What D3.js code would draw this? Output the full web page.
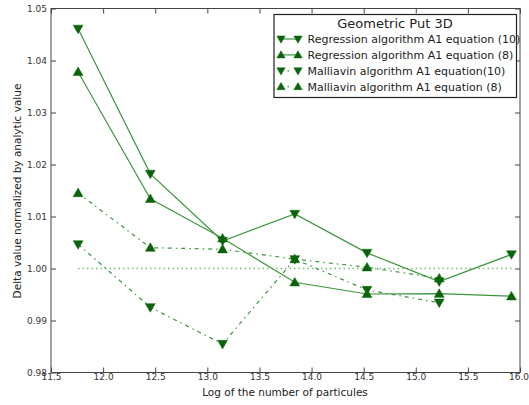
<!DOCTYPE html>
<html><head><meta charset="utf-8">
<script src="https://cdn.jsdelivr.net/npm/d3@7/dist/d3.min.js"></script>
<style>body{margin:0;background:#fff;} svg{display:block;font-family:"DejaVu Sans",sans-serif;}</style>
</head><body>
<script>
const logN = [11.76, 12.453, 13.146, 13.839, 14.532, 15.225, 15.918];
const regression10 = [1.0461, 1.0182, 1.0053, 1.0105, 1.0030, 0.9975, 1.0027];
const regression8  = [1.0378, 1.0134, 1.0058, 0.99735, 0.9951, 0.99515, 0.99466];
const malliavin10  = [1.00465, 0.99254, 0.98548, 1.00177, 0.99587, 0.99342];
const malliavin8   = [1.01452, 1.0040, 1.0037, 1.0018, 1.00023, 0.99812];
const reference    = [1.0, 1.0];
const referenceX   = [11.76, 15.918];
const xTicks = [11.5, 12.0, 12.5, 13.0, 13.5, 14.0, 14.5, 15.0, 15.5, 16.0];
const yTicks = [0.98, 0.99, 1.00, 1.01, 1.02, 1.03, 1.04, 1.05];
const seriesNames = ["Regression algorithm A1 equation (10)", "Regression algorithm A1 equation (8)", "Malliavin algorithm A1 equation(10)", "Malliavin algorithm A1 equation (8)"];
const legendTitle = "Geometric Put 3D";

const W = 529, H = 405;
const m = {l: 51, r: 9, t: 8.5, b: 32.5};
const svg = d3.select("body").append("svg").attr("width", W).attr("height", H);
const x = d3.scaleLinear().domain([11.5, 16.0]).range([m.l, W - m.r]);
const y = d3.scaleLinear().domain([0.98, 1.05]).range([H - m.b, m.t]);

const lineCol = "#3d963d", markCol = "#0b640b", axisCol = "#444";
const series = [
  {v: regression10, sym: d3.symbolTriangle, rot: 180, dash: null},
  {v: regression8, sym: d3.symbolTriangle, rot: 0, dash: null},
  {v: malliavin10, sym: d3.symbolTriangle, rot: 180, dash: "4,4,1.5,4"},
  {v: malliavin8, sym: d3.symbolTriangle, rot: 0, dash: "4,4,1.5,4"}
];

// reference dotted line
svg.append("path")
  .attr("d", d3.line().x((d,i)=>x(referenceX[i])).y(d=>y(d))(reference))
  .attr("fill","none").attr("stroke","#5cb85c").attr("stroke-width",1.3)
  .attr("stroke-dasharray","1.3,3.2");

const line = d3.line().x((d,i)=>x(logN[i])).y(d=>y(d));
series.forEach(s => {
  svg.append("path").attr("d", line(s.v)).attr("fill","none")
    .attr("stroke", lineCol).attr("stroke-width", 1.2)
    .attr("stroke-dasharray", s.dash);
});
series.forEach(s => {
  svg.selectAll(null).data(s.v).enter().append("path")
    .attr("d", d3.symbol().type(s.sym).size(42))
    .attr("transform", (d,i)=>`translate(${x(logN[i])},${y(d) + (s.rot ? -0.8 : 0.8)}) rotate(${s.rot})`)
    .attr("fill", markCol).attr("stroke", markCol).attr("stroke-width", 0.5);
});

// frame
svg.append("rect").attr("x", m.l).attr("y", m.t).attr("width", W-m.r-m.l).attr("height", H-m.b-m.t)
  .attr("fill","none").attr("stroke", axisCol).attr("stroke-width", 1);

// ticks (inside, all sides)
const gx = svg.append("g").attr("transform", `translate(0,${H-m.b})`)
  .call(d3.axisBottom(x).tickValues(xTicks).tickFormat(d3.format(".1f")).tickSizeInner(-5).tickSizeOuter(0).tickPadding(5));
const gxt = svg.append("g").attr("transform", `translate(0,${m.t})`)
  .call(d3.axisTop(x).tickValues(xTicks).tickFormat("").tickSizeInner(-5).tickSizeOuter(0));
const gy = svg.append("g").attr("transform", `translate(${m.l},0)`)
  .call(d3.axisLeft(y).tickValues(yTicks).tickFormat(d3.format(".2f")).tickSizeInner(-5).tickSizeOuter(0).tickPadding(4));
const gyr = svg.append("g").attr("transform", `translate(${W-m.r},0)`)
  .call(d3.axisRight(y).tickValues(yTicks).tickFormat("").tickSizeInner(-5).tickSizeOuter(0));
[gx,gxt,gy,gyr].forEach(g => {
  g.select(".domain").remove();
  g.selectAll("line").attr("stroke", axisCol);
  g.selectAll("text").attr("fill","#333").style("font-size","9px").style("font-family","DejaVu Sans");
});
gx.selectAll("text").attr("dy","0.3em");
gx.selectAll(".tick").filter(d => d === 16.0).select("text").attr("dx", "-1.5");

// axis labels
svg.append("text").attr("x", 285).attr("y", 396).attr("text-anchor","middle")
  .style("font-size","10.5px").attr("fill","#222").text("Log of the number of particules");
svg.append("text").attr("transform", `translate(21,${191}) rotate(-90)`).attr("text-anchor","middle")
  .style("font-size","10.5px").attr("fill","#222").text("Delta value normalized by analytic value");

// legend
const lg = svg.append("g");
lg.append("rect").attr("x", 274).attr("y", 14.5).attr("width", 242.5).attr("height", 83)
  .attr("fill","#fff").attr("stroke","#222").attr("stroke-width",1.2);
lg.append("text").attr("x", 395).attr("y", 27.5).attr("text-anchor","middle")
  .style("font-size","13px").attr("fill","#222").text(legendTitle);
seriesNames.forEach((name, i) => {
  const yy = 39 + i*15.9;
  const s = series[i];
  lg.append("line").attr("x1", 281).attr("x2", 298).attr("y1", yy).attr("y2", yy)
    .attr("stroke", lineCol).attr("stroke-width",1.2).attr("stroke-dasharray", s.dash ? "0,6.5,1.5,20" : null);
  [281, 298].forEach(px => lg.append("path").attr("d", d3.symbol().type(s.sym).size(30))
    .attr("transform", `translate(${px},${yy + (s.rot ? -0.6 : 0.6)}) rotate(${s.rot})`)
    .attr("fill", markCol).attr("stroke", markCol).attr("stroke-width",0.5));
  lg.append("text").attr("x", 307.5).attr("y", yy).attr("dy","0.35em")
    .style("font-size","11px").attr("fill","#222").text(name);
});
</script>
</body></html>
